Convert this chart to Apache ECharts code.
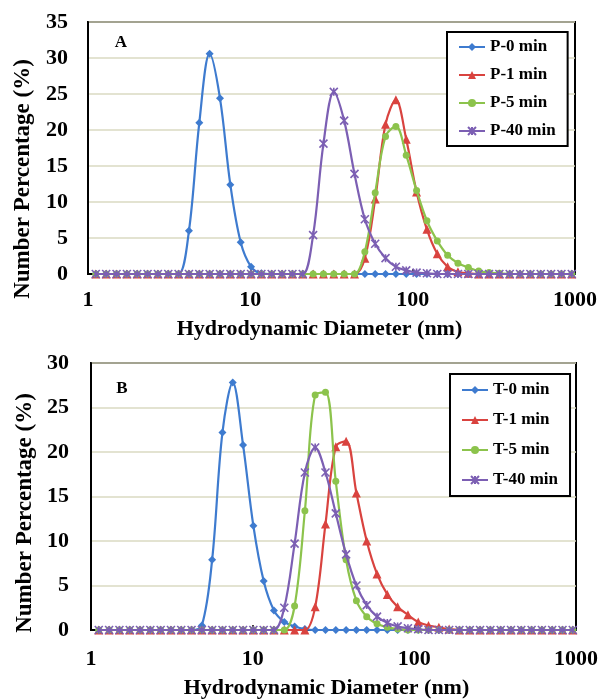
<!DOCTYPE html>
<html>
<head>
<meta charset="utf-8">
<script src="https://cdn.jsdelivr.net/npm/echarts@6/dist/echarts.min.js"></script>
<style>
html,body{margin:0;padding:0;background:#fff;}
#chart{width:601px;height:700px;}
</style>
</head>
<body>
<div id="chart"></div>
<script>
// Hydrodynamic diameter bins (nm)
var sizes = [1.117, 1.294, 1.499, 1.736, 2.010, 2.328, 2.696, 3.122, 3.615, 4.187,
  4.849, 5.615, 6.503, 7.531, 8.721, 10.10, 11.70, 13.54, 15.69, 18.17,
  21.04, 24.36, 28.21, 32.67, 37.84, 43.82, 50.75, 58.77, 68.06, 78.82,
  91.28, 105.7, 122.4, 141.8, 164.2, 190.1, 220.2, 255.0, 295.3, 342.0,
  396.1, 458.7, 531.2, 615.1, 712.4, 825.0, 955.4];

// Panel A
var P0 = [0,0,0,0,0,0,0,0,0,6.0,
  21.0,30.6,24.4,12.4,4.4,1.0,0.1,0,0,0,
  0,0,0,0,0,0,0,0,0,0,
  0,0,0,0,0,0,0,0,0,0,
  0,0,0,0,0,0,0];
var P1 = [0,0,0,0,0,0,0,0,0,0,
  0,0,0,0,0,0,0,0,0,0,
  0,0,0,0,0,0,2.2,10.4,20.8,24.2,
  18.7,11.4,6.2,2.8,1.0,0.3,0.1,0,0,0,
  0,0,0,0,0,0,0];
var P5 = [0,0,0,0,0,0,0,0,0,0,
  0,0,0,0,0,0,0,0,0,0,
  0,0,0,0,0,0,3.1,11.3,19.1,20.5,
  16.5,11.6,7.4,4.6,2.6,1.5,0.9,0.4,0.2,0.1,
  0,0,0,0,0,0,0];
var P40 = [0,0,0,0,0,0,0,0,0,0,
  0,0,0,0,0,0,0,0,0,0,
  0,5.4,18.1,25.3,21.3,13.9,7.6,4.2,2.2,1.0,
  0.5,0.2,0.1,0,0,0,0,0,0,0,
  0,0,0,0,0,0,0];

// Panel B
var T0 = [0,0,0,0,0,0,0,0,0,0,
  0.5,7.9,22.2,27.8,20.8,11.7,5.5,2.2,0.9,0.4,
  0.1,0,0,0,0,0,0,0,0,0,
  0,0,0,0,0,0,0,0,0,0,
  0,0,0,0,0,0,0];
var T1 = [0,0,0,0,0,0,0,0,0,0,
  0,0,0,0,0,0,0,0,0,0,
  0,2.6,11.9,20.6,21.2,15.4,10.0,6.3,4.0,2.6,
  1.7,0.9,0.5,0.3,0.1,0,0,0,0,0,
  0,0,0,0,0,0,0];
var T5 = [0,0,0,0,0,0,0,0,0,0,
  0,0,0,0,0,0,0,0,0,2.7,
  13.4,26.4,26.7,16.7,7.9,3.3,1.5,0.7,0.3,0.1,
  0,0,0,0,0,0,0,0,0,0,
  0,0,0,0,0,0,0];
var T40 = [0,0,0,0,0,0,0,0,0,0,
  0,0,0,0,0,0,0,0,2.5,9.7,
  17.7,20.5,17.7,13.1,8.5,5.0,2.8,1.5,0.8,0.4,
  0.2,0.1,0,0,0,0,0,0,0,0,
  0,0,0,0,0,0,0];

var namesA = ['P-0 min', 'P-1 min', 'P-5 min', 'P-40 min'];
var namesB = ['T-0 min', 'T-1 min', 'T-5 min', 'T-40 min'];
var yMaxA = 35, yMaxB = 30, yStep = 5;
var xMin = 1, xMax = 1000;
var xTitle = 'Hydrodynamic Diameter (nm)';
var yTitle = 'Number Percentage (%)';

var colors = ['#3e7bcf', '#d9433f', '#8cc34c', '#7c5fb3'];
var symbols = ['diamond', 'triangle', 'circle', 'path://M0,0L10,10M10,0L0,10M5,0L5,10'];
var symSizes = [8, 9, 7, 8];
var FONT = 'Liberation Serif';

function pairs(vals) {
  return sizes.map(function (s, i) { return [s, vals[i]]; });
}

function mkSeries(name, vals, k, gi) {
  var s = {
    name: name, type: 'line', xAxisIndex: gi, yAxisIndex: gi,
    data: pairs(vals), smooth: 0.35,
    symbol: symbols[k], symbolSize: symSizes[k],
    lineStyle: { color: colors[k], width: 2.2 },
    itemStyle: { color: colors[k] },
    z: 3 + k
  };
  if (k === 3) {
    s.itemStyle = { color: colors[k], borderColor: colors[k], borderWidth: 1.6 };
  }
  return s;
}

function xAx(gi, gap, pad) {
  return {
    type: 'log', logBase: 10, min: xMin, max: xMax, gridIndex: gi,
    axisLine: { show: true, lineStyle: { color: '#000', width: 2 } },
    axisTick: { show: true, inside: true, length: 5, lineStyle: { color: '#000', width: 1.5 } },
    minorTick: { show: false },
    splitLine: { show: false },
    axisLabel: { margin: gap.m, color: '#000', fontFamily: FONT, fontWeight: 'bold', fontSize: 22,
      formatter: function (v) { return String(Math.round(v)); } },
    name: xTitle, nameLocation: 'middle', nameGap: gap.n,
    nameTextStyle: { color: '#000', fontFamily: FONT, fontWeight: 'bold', fontSize: 22, padding: pad }
  };
}

function yAx(gi, max, margin) {
  return {
    type: 'value', min: 0, max: max, interval: yStep, gridIndex: gi,
    axisLine: { show: true, lineStyle: { color: '#000', width: 2 } },
    axisTick: { show: false },
    splitLine: { show: true, lineStyle: { color: '#dadac2', width: 1.5 } },
    axisLabel: { margin: margin, color: '#000', fontFamily: FONT, fontWeight: 'bold', fontSize: 22 }
  };
}

function legend(names, top, left, gap, pad) {
  return {
    data: names, orient: 'vertical', left: left, top: top,
    itemWidth: 26, itemHeight: 10, itemGap: gap,
    padding: pad,
    borderColor: '#000', borderWidth: 2, backgroundColor: '#fff',
    textStyle: { color: '#000', fontFamily: FONT, fontWeight: 'bold', fontSize: 17, lineHeight: 18 }
  };
}

var chart = echarts.init(document.getElementById('chart'), null, { renderer: 'canvas' });
var series = [];
[P0, P1, P5, P40].forEach(function (v, k) { series.push(mkSeries(namesA[k], v, k, 0)); });
[T0, T1, T5, T40].forEach(function (v, k) { series.push(mkSeries(namesB[k], v, k, 1)); });

chart.setOption({
  animation: false,
  backgroundColor: '#fff',
  grid: [
    { left: 88, right: 26, top: 22, height: 252, show: true, borderColor: '#000', borderWidth: 2 },
    { left: 91, right: 23, top: 363, height: 268, show: true, borderColor: '#000', borderWidth: 2 }
  ],
  xAxis: [xAx(0, { m: 15, n: 44 }, [0, 24, 0, 0]), xAx(1, { m: 18, n: 47 }, [0, 14, 0, 0])],
  yAxis: [yAx(0, yMaxA, 20), yAx(1, yMaxB, 22)],
  legend: [
    legend(namesA, 32, 447, 10, [6, 12, 6, 11]),
    legend(namesB, 374, 450, 12, [7, 12, 7, 11])
  ],
  graphic: [
    { type: 'text', x: 121, y: 43, style: { text: 'A', fill: '#000', font: 'bold 17px "Liberation Serif"', align: 'center', verticalAlign: 'middle', textAlign: 'center', textVerticalAlign: 'middle' } },
    { type: 'text', x: 122, y: 389, style: { text: 'B', fill: '#000', font: 'bold 17px "Liberation Serif"', align: 'center', verticalAlign: 'middle', textAlign: 'center', textVerticalAlign: 'middle' } },
    { type: 'text', x: 23, y: 179, rotation: Math.PI / 2, style: { text: yTitle, fill: '#000', font: 'bold 23px "Liberation Serif"', align: 'center', verticalAlign: 'middle', textAlign: 'center', textVerticalAlign: 'middle' } },
    { type: 'text', x: 25, y: 513, rotation: Math.PI / 2, style: { text: yTitle, fill: '#000', font: 'bold 23px "Liberation Serif"', align: 'center', verticalAlign: 'middle', textAlign: 'center', textVerticalAlign: 'middle' } }
  ],
  series: series
});
</script>
</body>
</html>
